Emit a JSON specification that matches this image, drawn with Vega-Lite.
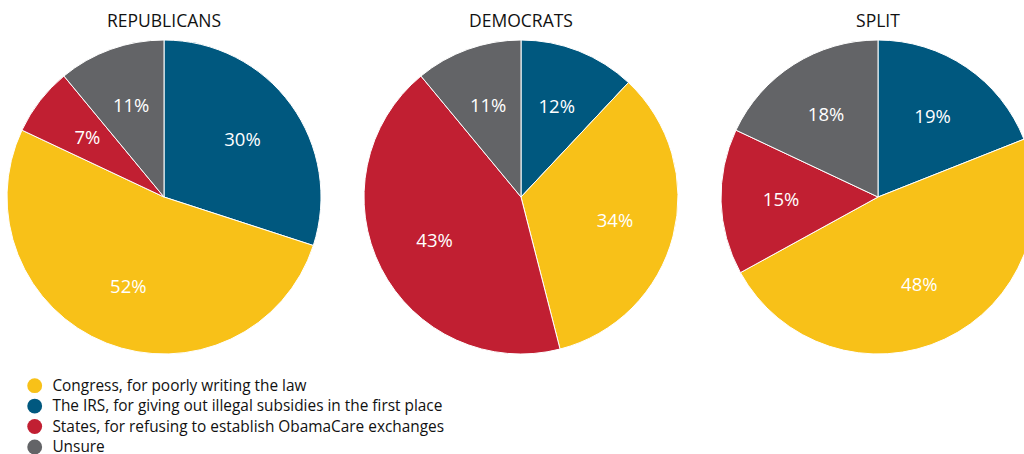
{
  "$schema": "https://vega.github.io/schema/vega-lite/v6.json",
  "padding": {"left": 5, "top": 12, "right": 0, "bottom": 0},
  "background": "white",
  "config": {"view": {"stroke": null}, "font": "Open Sans"},
  "data": {"values": [
    {"group": "REPUBLICANS", "cat": "The IRS, for giving out illegal subsidies in the first place", "rank": 1, "value": 30},
    {"group": "REPUBLICANS", "cat": "Congress, for poorly writing the law", "rank": 2, "value": 52},
    {"group": "REPUBLICANS", "cat": "States, for refusing to establish ObamaCare exchanges", "rank": 3, "value": 7},
    {"group": "REPUBLICANS", "cat": "Unsure", "rank": 4, "value": 11},
    {"group": "DEMOCRATS", "cat": "The IRS, for giving out illegal subsidies in the first place", "rank": 1, "value": 12},
    {"group": "DEMOCRATS", "cat": "Congress, for poorly writing the law", "rank": 2, "value": 34},
    {"group": "DEMOCRATS", "cat": "States, for refusing to establish ObamaCare exchanges", "rank": 3, "value": 43},
    {"group": "DEMOCRATS", "cat": "Unsure", "rank": 4, "value": 11},
    {"group": "SPLIT", "cat": "The IRS, for giving out illegal subsidies in the first place", "rank": 1, "value": 19},
    {"group": "SPLIT", "cat": "Congress, for poorly writing the law", "rank": 2, "value": 48},
    {"group": "SPLIT", "cat": "States, for refusing to establish ObamaCare exchanges", "rank": 3, "value": 15},
    {"group": "SPLIT", "cat": "Unsure", "rank": 4, "value": 18}
  ]},
  "transform": [{"calculate": "datum.value + '%'", "as": "label"}],
  "facet": {
    "column": {
      "field": "group",
      "type": "nominal",
      "sort": ["REPUBLICANS", "DEMOCRATS", "SPLIT"],
      "header": {"title": null, "labelFontSize": 17.5, "labelFont": "Open Sans", "labelColor": "#111111", "labelPadding": 8}
    }
  },
  "spacing": 39,
  "spec": {
    "width": 314,
    "height": 314,
    "layer": [
      {
        "mark": {"type": "arc", "stroke": "white", "strokeWidth": 1},
        "encoding": {
          "theta": {"field": "value", "type": "quantitative", "stack": true},
          "order": {"field": "rank", "type": "quantitative"},
          "color": {
            "field": "cat",
            "type": "nominal",
            "scale": {
              "domain": ["Congress, for poorly writing the law", "The IRS, for giving out illegal subsidies in the first place", "States, for refusing to establish ObamaCare exchanges", "Unsure"],
              "range": ["#f8c118", "#00587f", "#c11f32", "#636467"]
            },
            "legend": {
              "title": null,
              "orient": "none",
              "legendX": 20,
              "legendY": 338,
              "symbolType": "circle",
              "symbolSize": 220,
              "symbolStrokeWidth": 0,
              "labelFontSize": 15.4,
              "labelFont": "Open Sans",
              "labelColor": "#111111",
              "labelLimit": 600,
              "rowPadding": 3.4,
              "padding": 0,
              "labelOffset": 10
            }
          }
        }
      },
      {
        "mark": {"type": "text", "radius": 97, "fontSize": 18.5, "color": "white", "font": "Open Sans"},
        "encoding": {
          "theta": {"field": "value", "type": "quantitative", "stack": true},
          "order": {"field": "rank", "type": "quantitative"},
          "text": {"field": "label", "type": "nominal"}
        }
      }
    ]
  }
}
